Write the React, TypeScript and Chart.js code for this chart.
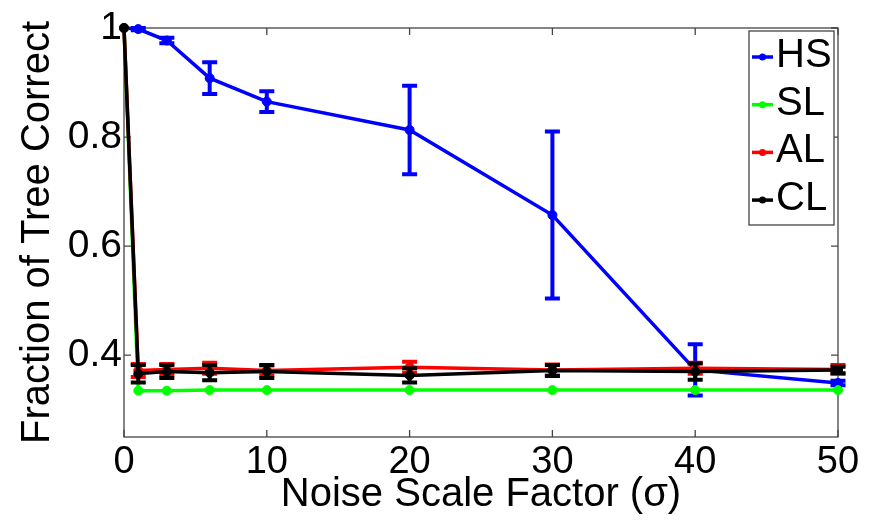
import React, { useEffect, useRef } from 'react';
import { Chart, registerables } from 'chart.js';

Chart.register(...registerables);

const xValues = [0, 1, 3, 6, 10, 20, 30, 40, 50];
const seriesNames = ['HS', 'SL', 'AL', 'CL'];
const seriesColors = ['#0000ff', '#00ff00', '#ff0000', '#000000'];
const hsValues = [1, 0.998, 0.977, 0.908, 0.865, 0.813, 0.657, 0.373, 0.349];
const hsErrors = [0, 0.002, 0.005, 0.029, 0.019, 0.081, 0.153, 0.047, 0.004];
const slValues = [1, 0.335, 0.335, 0.336, 0.336, 0.336, 0.336, 0.336, 0.336];
const slErrors = [0, 0, 0, 0, 0, 0, 0, 0, 0];
const alValues = [1, 0.372, 0.374, 0.376, 0.372, 0.378, 0.373, 0.376, 0.374];
const alErrors = [0, 0.012, 0.01, 0.01, 0.009, 0.01, 0.01, 0.01, 0.008];
const clValues = [1, 0.366, 0.37, 0.368, 0.37, 0.363, 0.372, 0.37, 0.373];
const clErrors = [0, 0.016, 0.012, 0.014, 0.012, 0.013, 0.01, 0.015, 0.006];
const xTicks = [0, 10, 20, 30, 40, 50];
const yTicks = [0.4, 0.6, 0.8, 1];
const xTitle = 'Noise Scale Factor (σ)';
const yTitle = 'Fraction of Tree Correct';

const FONT = '"Liberation Sans", Arial, Helvetica, sans-serif';

const errorBarPlugin = {
  id: 'errorBars',
  afterDatasetDraw(chart: any, args: any) {
    const ds = chart.data.datasets[args.index];
    const errs: number[] = ds.errors;
    if (!errs) return;
    const xs = chart.scales.x;
    const ys = chart.scales.y;
    const ctx = chart.ctx;
    ctx.save();
    ctx.strokeStyle = ds.borderColor;
    ctx.lineWidth = 4;
    ds.data.forEach((p: any, i: number) => {
      const e = errs[i];
      if (!e) return;
      const px = xs.getPixelForValue(p.x);
      const top = ys.getPixelForValue(p.y + e);
      const bot = ys.getPixelForValue(p.y - e);
      ctx.beginPath();
      ctx.moveTo(px, top);
      ctx.lineTo(px, bot);
      ctx.moveTo(px - 7.5, top);
      ctx.lineTo(px + 7.5, top);
      ctx.moveTo(px - 7.5, bot);
      ctx.lineTo(px + 7.5, bot);
      ctx.stroke();
    });
    ctx.restore();
  },
};

const framePlugin = {
  id: 'frame',
  beforeDatasetsDraw(chart: any) {
    const { ctx, chartArea: a } = chart;
    const xs = chart.scales.x;
    const ys = chart.scales.y;
    ctx.save();
    ctx.strokeStyle = '#444444';
    ctx.lineWidth = 1.3;
    ctx.strokeRect(a.left, a.top, a.right - a.left, a.bottom - a.top);
    const tl = 7;
    ctx.beginPath();
    xTicks.forEach((v) => {
      const px = xs.getPixelForValue(v);
      ctx.moveTo(px, a.bottom);
      ctx.lineTo(px, a.bottom - tl);
      ctx.moveTo(px, a.top);
      ctx.lineTo(px, a.top + tl);
    });
    yTicks.forEach((v) => {
      const py = ys.getPixelForValue(v);
      ctx.moveTo(a.left, py);
      ctx.lineTo(a.left + tl, py);
      ctx.moveTo(a.right, py);
      ctx.lineTo(a.right - tl, py);
    });
    ctx.stroke();
    ctx.restore();
  },
};

const legendPlugin = {
  id: 'boxLegend',
  afterDraw(chart: any) {
    const { ctx, chartArea: a } = chart;
    const w = 85;
    const h = 194;
    const left = a.right - 4 - w;
    const top = a.top + 3;
    ctx.save();
    ctx.fillStyle = '#ffffff';
    ctx.fillRect(left, top, w, h);
    ctx.strokeStyle = '#444444';
    ctx.lineWidth = 1.3;
    ctx.strokeRect(left, top, w, h);
    chart.data.datasets.forEach((ds: any, i: number) => {
      const y = top + 26 + i * 47.7;
      ctx.strokeStyle = ds.borderColor;
      ctx.lineWidth = 3.5;
      ctx.beginPath();
      ctx.moveTo(left + 3, y);
      ctx.lineTo(left + 24, y);
      ctx.stroke();
      ctx.fillStyle = ds.borderColor;
      ctx.beginPath();
      ctx.arc(left + 13.5, y, 3.5, 0, Math.PI * 2);
      ctx.fill();
      ctx.fillStyle = '#000000';
      ctx.font = '40px ' + FONT;
      ctx.textBaseline = 'middle';
      ctx.textAlign = 'left';
      ctx.fillText(ds.label, left + 27, y - 1);
    });
    ctx.restore();
  },
};

function toPoints(values: number[]) {
  return values.map((v, i) => ({ x: xValues[i], y: v }));
}

export default function App() {
  const canvasRef = useRef<HTMLCanvasElement | null>(null);

  useEffect(() => {
    if (!canvasRef.current) return;
    const valueSets = [hsValues, slValues, alValues, clValues];
    const errorSets = [hsErrors, slErrors, alErrors, clErrors];
    const datasets: any[] = seriesNames.map((name, i) => ({
      label: name,
      data: toPoints(valueSets[i]),
      errors: errorSets[i],
      borderColor: seriesColors[i],
      backgroundColor: seriesColors[i],
      pointBackgroundColor: seriesColors[i],
      pointBorderColor: seriesColors[i],
      borderWidth: 3.5,
      pointRadius: 4.5,
      pointBorderWidth: 1,
      tension: 0,
      clip: false,
      order: seriesNames.length - i,
    }));

    const chart = new Chart(canvasRef.current, {
      type: 'line',
      data: { datasets },
      options: {
        animation: false,
        responsive: true,
        maintainAspectRatio: false,
        layout: { padding: { top: 28, right: 41, left: 0, bottom: 0 } },
        plugins: {
          legend: { display: false },
          tooltip: { enabled: false },
        },
        scales: {
          x: {
            type: 'linear',
            min: 0,
            max: 50,
            grid: { display: false, drawTicks: false },
            border: { display: false },
            afterBuildTicks: (scale: any) => {
              scale.ticks = xTicks.map((v) => ({ value: v }));
            },
            afterFit: (scale: any) => {
              scale.height = 85;
            },
            ticks: {
              color: '#000000',
              padding: 7,
              maxRotation: 0,
              font: { family: FONT, size: 38, lineHeight: 1 },
              callback: (v: any) => String(v),
            },
            title: {
              display: true,
              text: xTitle,
              color: '#000000',
              font: { family: FONT, size: 40, lineHeight: 1 },
              padding: { top: 0, bottom: 7 },
            },
          },
          y: {
            type: 'linear',
            min: 0.25,
            max: 1,
            grid: { display: false, drawTicks: false },
            border: { display: false },
            afterBuildTicks: (scale: any) => {
              scale.ticks = yTicks.map((v) => ({ value: v }));
            },
            afterFit: (scale: any) => {
              scale.width = 124;
            },
            ticks: {
              color: '#000000',
              padding: 2,
              font: { family: FONT, size: 39, lineHeight: 1 },
              callback: (v: any) => String(v),
            },
            title: {
              display: true,
              text: yTitle,
              color: '#000000',
              font: { family: FONT, size: 40, lineHeight: 1 },
              padding: { top: 18, bottom: 0 },
            },
          },
        },
      } as any,
      plugins: [framePlugin, errorBarPlugin, legendPlugin],
    });
    return () => chart.destroy();
  }, []);

  return (
    <div style={{ position: 'fixed', left: 0, top: 0, width: 879, height: 522, background: '#ffffff' }}>
      <canvas ref={canvasRef} />
    </div>
  );
}
